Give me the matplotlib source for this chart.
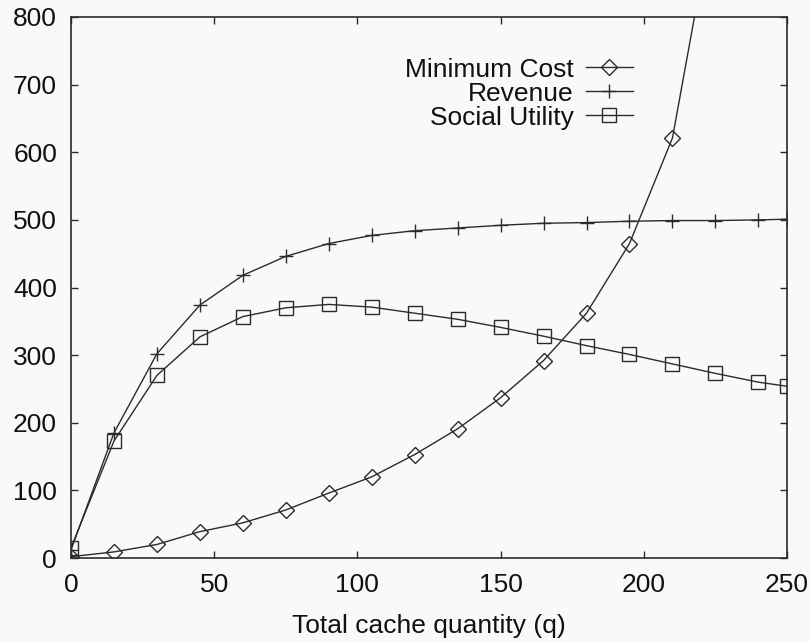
import matplotlib
matplotlib.use("Agg")
import matplotlib.pyplot as plt

plt.rcParams["font.family"] = ["Liberation Sans", "DejaVu Sans"]

# cache quantity on the x axis
q = [0, 15, 30, 45, 60, 75, 90, 105, 120, 135, 150, 165, 180, 195, 210, 225, 240, 250]

min_cost = [2, 9, 20, 39, 52, 71, 96, 120, 153, 191, 237, 292, 362, 465, 621, 970]
revenue = [12, 185, 302, 374, 418, 446, 465, 477, 484, 488, 492, 495, 496, 498, 499, 499, 500, 501]
social_utility = [15, 173, 270, 327, 357, 370, 375, 371, 362, 353, 341, 328, 314, 301, 287, 273, 260, 254]

ink = "#2b2b2b"
fs = 19

fig = plt.figure(figsize=(8.11, 6.42), dpi=100)
fig.patch.set_facecolor("#f9f9f9")
ax = fig.add_axes([71 / 811, 84 / 642, 716 / 811, 541 / 642])
ax.set_facecolor("#f9f9f9")

ax.plot(q[:len(min_cost)], min_cost, color=ink, lw=1.0, marker="D", ms=8,
        mfc="none", mec=ink, mew=1.0, label="Minimum Cost")
ax.plot(q, revenue, color=ink, lw=1.0, marker="+", ms=10, mew=1.0,
        label="Revenue")
ax.plot(q, social_utility, color=ink, lw=1.0, marker="s", ms=10,
        mfc="none", mec=ink, mew=1.0, label="Social Utility")

ax.set_xlim(0, 250)
ax.set_ylim(0, 800)
ax.set_xticks(range(0, 251, 50))
ax.set_yticks(range(0, 801, 100))

for s in ax.spines.values():
    s.set_color(ink)
    s.set_linewidth(1.2)
ax.tick_params(direction="in", length=5, width=1, color=ink, top=True, right=True,
               labelsize=fs, labelcolor="#111111")
ax.tick_params(axis="x", pad=11)
ax.tick_params(axis="y", pad=10)

ax.set_xlabel("Total cache quantity (q)", fontsize=fs, color="#111111", labelpad=12)

leg = ax.legend(loc="upper right", bbox_to_anchor=(0.785, 0.925), frameon=False,
                markerfirst=False, fontsize=fs, labelspacing=0, handlelength=1.8,
                handletextpad=0.45, borderpad=0, borderaxespad=0)
for t in leg.get_texts():
    t.set_color("#111111")

fig.savefig("out.png", dpi=100, facecolor=fig.get_facecolor())
